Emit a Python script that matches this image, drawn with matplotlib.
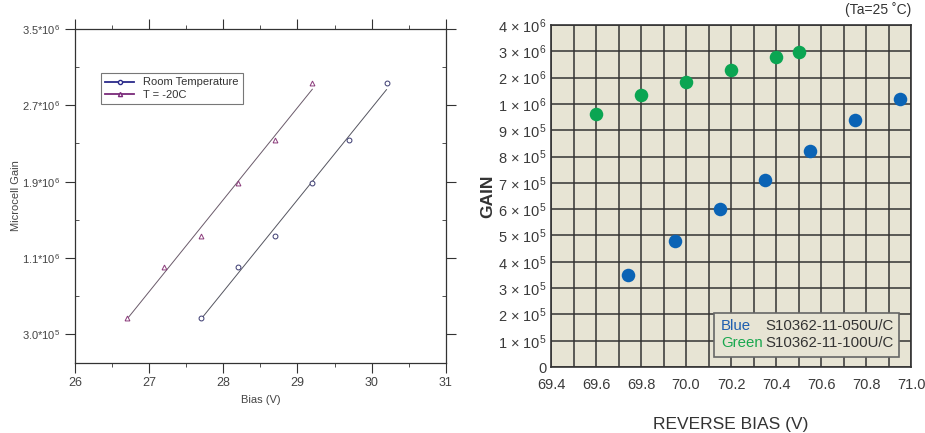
import numpy as np
import matplotlib
matplotlib.use("Agg")
from matplotlib import pyplot as plt
from matplotlib.patches import Rectangle
from matplotlib.ticker import MultipleLocator, FixedLocator, FuncFormatter

plt.rcParams['font.family'] = ['Liberation Sans', 'DejaVu Sans']
plt.rcParams['mathtext.fontset'] = 'custom'
plt.rcParams['mathtext.rm'] = 'Liberation Sans'
plt.rcParams['mathtext.it'] = 'Liberation Sans'

# left panel: microcell gain vs bias
bias_room = [27.7, 28.2, 28.7, 29.2, 29.7, 30.2]
gain_room = [0.475e6, 1.005e6, 1.33e6, 1.89e6, 2.34e6, 2.93e6]
bias_cold = [26.7, 27.2, 27.7, 28.2, 28.7, 29.2]
gain_cold = [0.47e6, 1.005e6, 1.335e6, 1.89e6, 2.34e6, 2.935e6]
left_yticks = [0.3e6, 1.1e6, 1.9e6, 2.7e6, 3.5e6]
left_yminor = [0.7e6, 1.5e6, 2.3e6, 3.1e6]
left_ylabels = ['3.0*10$^5$', '1.1*10$^6$', '1.9*10$^6$', '2.7*10$^6$', '3.5*10$^6$']

# right panel: gain vs reverse bias
bias_blue = [69.74, 69.95, 70.15, 70.35, 70.55, 70.75, 70.95]
gain_blue = [3.5e5, 4.8e5, 6.0e5, 7.1e5, 8.2e5, 9.4e5, 1.19e6]
bias_green = [69.6, 69.8, 70.0, 70.2, 70.4, 70.5]
gain_green = [9.6e5, 1.34e6, 1.85e6, 2.29e6, 2.8e6, 2.99e6]
gain_levels = [0, 1e5, 2e5, 3e5, 4e5, 5e5, 6e5, 7e5, 8e5, 9e5, 1e6, 2e6, 3e6, 4e6]
gain_labels = ['0'] + ['%d $\\times$ 10$^5$' % i for i in range(1, 10)] + \
              ['%d $\\times$ 10$^6$' % i for i in range(1, 5)]

fig = plt.figure(figsize=(9.25, 4.33), dpi=100)

# ---------- left ----------
ax1 = fig.add_axes([0.081, 0.162, 0.401, 0.771])
for x, y, m, lc, mc, fitc, lab in [
        (bias_room, gain_room, 'o', '#2a2a8a', '#3a3a70', '#555560', 'Room Temperature'),
        (bias_cold, gain_cold, '^', '#7a2a7a', '#8a3a7a', '#6a5a6a', 'T = -20C')]:
    k, b = np.polyfit(x, y, 1)
    xs = np.array([x[0], x[-1]])
    ax1.plot(xs, k * xs + b, color=fitc, lw=0.7)
    ax1.plot(x, y, ls='none', marker=m, ms=3.5, mfc='white', mec=mc, mew=0.7)
    ax1.plot([], [], color=lc, lw=1.3, marker=m, ms=3, mfc='white', mec=lc, label=lab)

ax1.set_xlim(26, 31)
ax1.set_ylim(0, 3.5e6)
ax1.xaxis.set_major_locator(MultipleLocator(1))
ax1.xaxis.set_minor_locator(MultipleLocator(0.5))
ax1.yaxis.set_major_locator(FixedLocator(left_yticks))
ax1.yaxis.set_minor_locator(FixedLocator(left_yminor))
ax1.set_yticklabels(left_ylabels)
ax1.tick_params(which='both', direction='out', top=True, right=True,
                labelsize=8, colors='#333333', labelcolor='#444444')
ax1.tick_params(axis='x', labelsize=9)
ax1.tick_params(which='major', length=7)
ax1.tick_params(which='minor', length=3)
ax1.tick_params(axis='y', which='minor', direction='in')
for s in ax1.spines.values():
    s.set_color('#333333')
    s.set_linewidth(0.9)
ax1.set_xlabel('Bias (V)', fontsize=8, color='#444444')
ax1.set_ylabel('Microcell Gain', fontsize=8, color='#444444', labelpad=1)
leg = ax1.legend(loc='upper left', bbox_to_anchor=(0.055, 0.885), fontsize=8,
                 fancybox=False, edgecolor='#555555', handlelength=2.6,
                 borderpad=0.4, labelspacing=0.2)
leg.get_frame().set_linewidth(0.8)
for t in leg.get_texts():
    t.set_color('#333333')

# ---------- right ----------
ax2 = fig.add_axes([0.5957, 0.1524, 0.3893, 0.7899])
fwd = lambda v: np.interp(v, gain_levels, np.arange(len(gain_levels)))
inv = lambda p: np.interp(p, np.arange(len(gain_levels)), gain_levels)
ax2.set_yscale('function', functions=(fwd, inv))
ax2.set_facecolor('#e7e4d4')
ax2.scatter(bias_blue, gain_blue, s=95, color='#0a63b5', zorder=3, linewidths=0)
ax2.scatter(bias_green, gain_green, s=95, color='#0aa552', zorder=3, linewidths=0)
ax2.set_xlim(69.4, 71.0)
ax2.set_ylim(0, 4e6)
ax2.xaxis.set_major_locator(MultipleLocator(0.2))
ax2.xaxis.set_minor_locator(MultipleLocator(0.1))
ax2.xaxis.set_major_formatter(FuncFormatter(lambda v, p: '%.1f' % v))
ax2.yaxis.set_major_locator(FixedLocator(gain_levels))
ax2.yaxis.set_minor_locator(FixedLocator([]))
ax2.set_yticklabels(gain_labels)
ax2.grid(which='both', color='#333333', lw=1.1)
ax2.set_axisbelow(True)
ax2.tick_params(which='both', length=0, labelsize=10.5, labelcolor='#3a3a3a')
ax2.tick_params(axis='x', pad=8)
ax2.tick_params(axis='y', pad=3)
for s in ax2.spines.values():
    s.set_color('#333333')
    s.set_linewidth(1.2)
ax2.set_ylabel('GAIN', fontsize=12.5, fontweight='bold', color='#333333', labelpad=2)
ax2.set_xlabel('REVERSE BIAS (V)', fontsize=12.5, color='#333333', labelpad=18)
ax2.text(1.0, 1.045, "(Ta=25 \u02daC)", transform=ax2.transAxes, ha='right',
         va='center', fontsize=10, color='#333333')

# text legend box
ax2.add_patch(Rectangle((0.453, 0.029), 0.514, 0.129, transform=ax2.transAxes,
                        fc='#e7e4d4', ec='#666666', lw=1.2, zorder=4))
ax2.text(0.472, 0.120, 'Blue', transform=ax2.transAxes, fontsize=10.8,
         color='#1f5fb0', va='center', zorder=5)
ax2.text(0.472, 0.070, 'Green', transform=ax2.transAxes, fontsize=10.8,
         color='#1aa84f', va='center', zorder=5)
ax2.text(0.594, 0.120, 'S10362-11-050U/C', transform=ax2.transAxes,
         fontsize=10.8, color='#333333', va='center', zorder=5)
ax2.text(0.594, 0.070, 'S10362-11-100U/C', transform=ax2.transAxes,
         fontsize=10.8, color='#333333', va='center', zorder=5)

fig.savefig('out.png', dpi=100, facecolor='white')
